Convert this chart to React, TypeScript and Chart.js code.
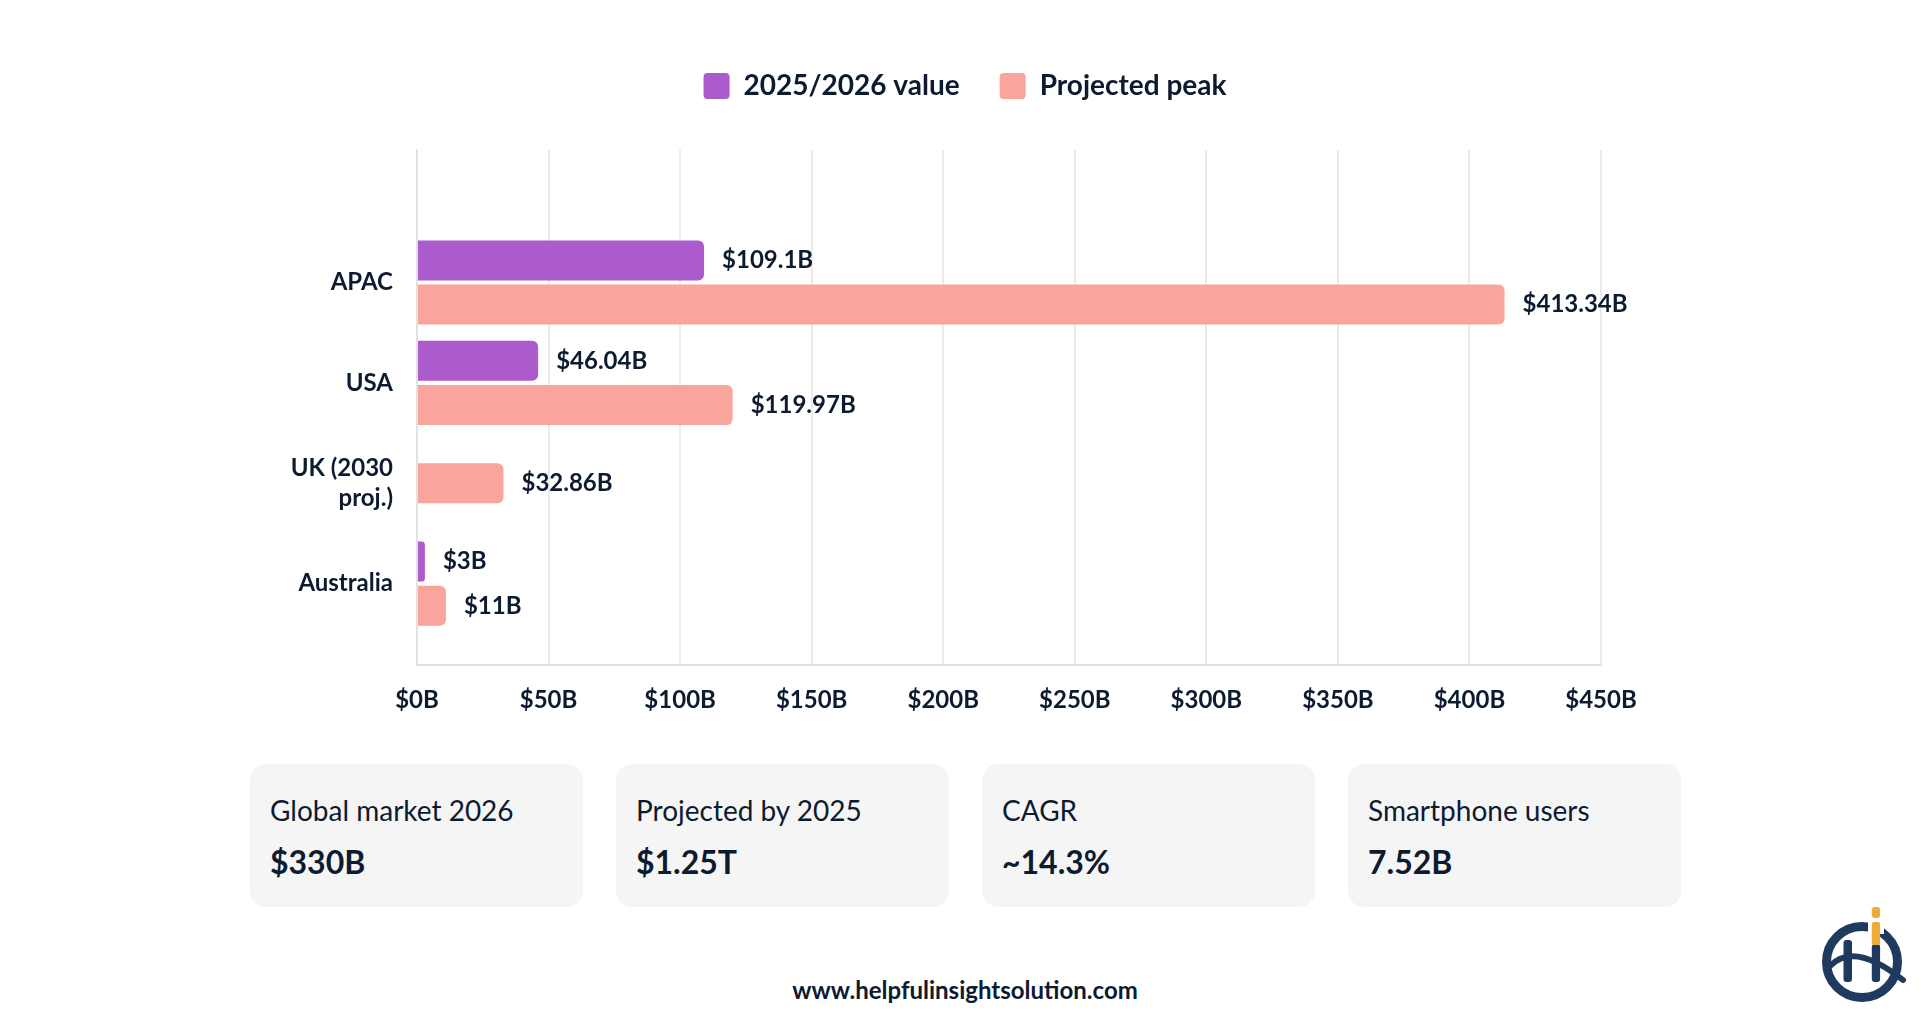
import { useEffect, useRef } from 'react';
import { Chart, registerables } from 'chart.js';

Chart.register(...registerables);
Chart.defaults.font.family = 'Lato';

// ---- data -----------------------------------------------------------------
const regions: (string | string[])[] = ['APAC', 'USA', ['UK (2030', 'proj.)'], 'Australia'];
const currentValues: (number | null)[] = [109.1, 46.04, null, 3];
const peakValues: (number | null)[] = [413.34, 119.97, 32.86, 11];
const seriesNames = ['2025/2026 value', 'Projected peak'];
const xTickValues = [0, 50, 100, 150, 200, 250, 300, 350, 400, 450];

const statLabels = ['Global market 2026', 'Projected by 2025', 'CAGR', 'Smartphone users'];
const statValues = ['$330B', '$1.25T', '~14.3%', '7.52B'];
const siteUrl = 'www.helpfulinsightsolution.com';

// ---- styling --------------------------------------------------------------
const INK = '#0d1b31';
const PURPLE = '#ab5bcc';
const PEACH = '#f9a59b';
const GRID = '#ebebeb';
const AXIS = '#e2e2e2';

const money = (v: number) => `$${v}B`;

// value labels at the end of each bar
const valueLabels = {
  id: 'valueLabels',
  afterDatasetsDraw(chart: any) {
    const { ctx } = chart;
    ctx.save();
    ctx.font = 'bold 24px Lato';
    ctx.fillStyle = INK;
    ctx.textAlign = 'left';
    ctx.textBaseline = 'middle';
    chart.data.datasets.forEach((ds: any, di: number) => {
      const meta = chart.getDatasetMeta(di);
      meta.data.forEach((bar: any, i: number) => {
        const v = ds.data[i]?.x;
        if (v == null || !isFinite(bar.x)) return;
        ctx.fillText(money(v), bar.x + 18, bar.y);
      });
    });
    ctx.restore();
  },
};

// extra breathing room between the legend and the plot
const legendGap = {
  id: 'legendGap',
  beforeLayout(chart: any) {
    const legend = chart.legend;
    if (!legend || legend.__gap) return;
    const fit = legend.fit;
    legend.fit = function () {
      fit.call(this);
      this.height += 40;
    };
    legend.__gap = true;
  },
};

export default function App() {
  const canvasRef = useRef<HTMLCanvasElement>(null);

  useEffect(() => {
    const canvas = canvasRef.current;
    if (!canvas) return;
    const chart = new Chart(canvas, {
      type: 'bar',
      data: {
        datasets: [
          {
            label: seriesNames[0],
            data: currentValues.map((v, i) => ({ x: v, y: i })) as any,
            backgroundColor: PURPLE,
          },
          {
            label: seriesNames[1],
            data: peakValues.map((v, i) => ({ x: v, y: i })) as any,
            backgroundColor: PEACH,
          },
        ],
      },
      options: {
        responsive: false,
        animation: false,
        indexAxis: 'y',
        layout: { padding: { top: 32, right: 0, bottom: 0, left: 0 } },
        datasets: {
          bar: {
            categoryPercentage: 0.88,
            barPercentage: 0.91,
            maxBarThickness: 40,
            skipNull: true,
            borderRadius: 6,
            borderSkipped: 'start',
          },
        } as any,
        scales: {
          x: {
            type: 'linear',
            position: 'bottom',
            min: 0,
            max: 450,
            afterBuildTicks: (s: any) => {
              s.ticks = xTickValues.map((value) => ({ value }));
            },
            ticks: {
              padding: 21,
              color: INK,
              font: { size: 24, weight: 'bold' },
              callback: (v: any) => money(v),
            },
            grid: { color: GRID, lineWidth: 2, drawTicks: false },
            border: { color: AXIS, width: 2 },
            afterFit: (s: any) => {
              s.height = 75;
            },
          },
          y: {
            type: 'linear',
            position: 'left',
            reverse: true,
            offset: false,
            min: -1.32,
            max: 3.81,
            afterBuildTicks: (s: any) => {
              s.ticks = regions.map((_, i) => ({ value: i }));
            },
            ticks: {
              padding: 24,
              color: INK,
              font: { size: 24, weight: 'bold', lineHeight: 1.25 },
              callback: (v: any) => (regions[v] as any) ?? '',
            },
            grid: { display: false, drawTicks: false, offset: false },
            border: { color: AXIS, width: 2 },
            afterFit: (s: any) => {
              s.width = 417;
            },
          },
          // empty right-hand gutter so the legend stays centred on the page
          gutter: {
            type: 'linear',
            position: 'right',
            ticks: { display: false },
            grid: { display: false, drawTicks: false },
            border: { display: false },
            afterFit: (s: any) => {
              s.width = 329;
            },
          },
        } as any,
        plugins: {
          legend: {
            position: 'top',
            labels: {
              boxWidth: 26,
              boxHeight: 26,
              padding: 40,
              useBorderRadius: true,
              borderRadius: 4,
              color: INK,
              font: { size: 28, weight: 'bold' },
            },
          },
          tooltip: { enabled: false },
        },
      } as any,
      plugins: [valueLabels, legendGap],
    });
    return () => chart.destroy();
  }, []);

  return (
    <div
      style={{
        position: 'fixed',
        left: 0,
        top: 0,
        width: 1930,
        height: 1030,
        background: '#ffffff',
        overflow: 'hidden',
        fontFamily: 'Lato, sans-serif',
        color: INK,
      }}
    >
      <canvas
        ref={canvasRef}
        width={1930}
        height={740}
        style={{ position: 'absolute', left: 0, top: 0, width: 1930, height: 740 }}
      />

      <div style={{ position: 'absolute', left: 250, top: 764, display: 'flex', gap: 33 }}>
        {statLabels.map((label, i) => (
          <div
            key={label}
            style={{
              width: 333,
              height: 143,
              boxSizing: 'border-box',
              borderRadius: 16,
              background: '#f5f5f5',
              padding: '30px 20px 0',
            }}
          >
            <div style={{ fontSize: 28, lineHeight: 1.2, fontWeight: 400 }}>{label}</div>
            <div style={{ fontSize: 32, lineHeight: 1.2, fontWeight: 700, marginTop: 15 }}>
              {statValues[i]}
            </div>
          </div>
        ))}
      </div>

      <div
        style={{
          position: 'absolute',
          left: 0,
          top: 976,
          width: 1930,
          textAlign: 'center',
          fontSize: 24,
          lineHeight: 1.2,
          fontWeight: 700,
        }}
      >
        {siteUrl}
      </div>

      <svg
        width={90}
        height={110}
        viewBox="0 0 90 110"
        style={{ position: 'absolute', left: 1817, top: 900 }}
      >
        <circle cx={45} cy={62} r={35.5} fill="none" stroke="#1f3a5f" strokeWidth={9} />
        <rect x={51} y={16} width={16} height={18} fill="#ffffff" />
        <rect x={26.5} y={40} width={8.5} height={42} rx={3} fill="#1f3a5f" />
        <rect x={54.8} y={44} width={8.3} height={38} rx={3} fill="#1f3a5f" />
        <rect x={54.8} y={22} width={8.3} height={23} rx={2} fill="#f0a93b" />
        <rect x={54.8} y={7} width={8.3} height={11} rx={3} fill="#f0a93b" />
        <path d="M13 66 Q37 41 86 80" fill="none" stroke="#1f3a5f" strokeWidth={6} strokeLinecap="round" />
      </svg>
    </div>
  );
}
